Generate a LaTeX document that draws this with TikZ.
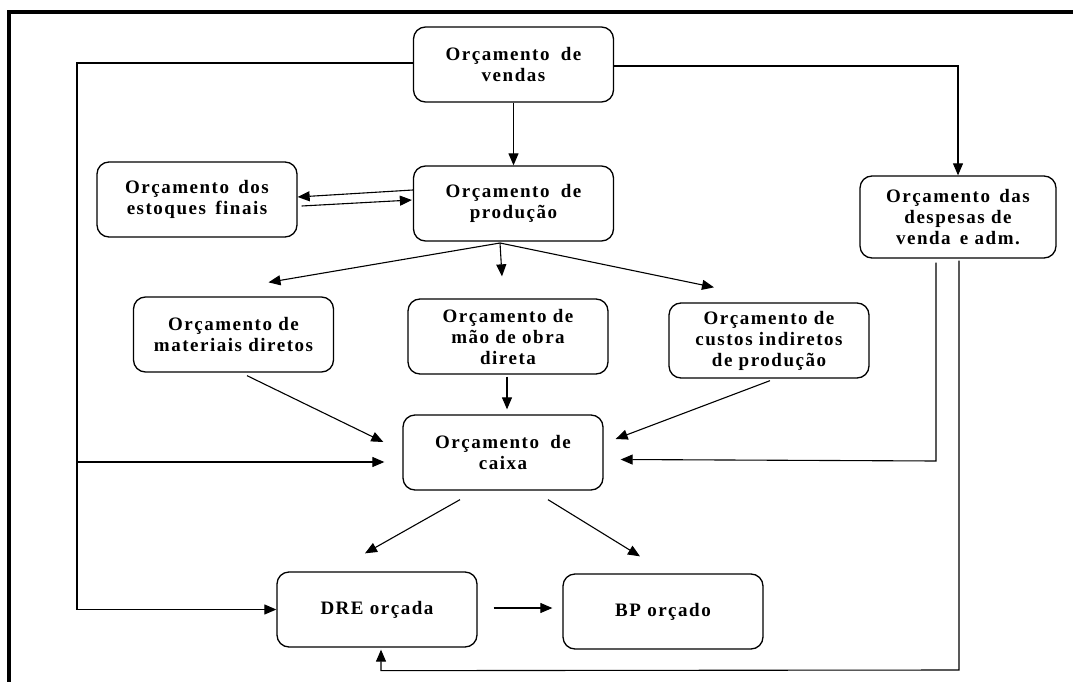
\documentclass[tikz,border=0pt]{standalone}
\usepackage{fontspec}
\setmainfont{Liberation Serif}[LetterSpace=8]
\usetikzlibrary{arrows.meta,calc}
\begin{document}
\begin{tikzpicture}[x=1pt,y=-1pt,
  box/.style={draw, line width=1.3pt, rounded corners=12pt, minimum width=200pt,
    minimum height=75pt, align=center, inner sep=0pt,
    font=\bfseries\fontsize{19}{21}\selectfont},
  conn/.style={line width=1.1pt},
  arr/.style={conn, -{Triangle[length=12pt,width=10pt]}},
  frame/.style={line width=3.2pt}]
\useasboundingbox (0,0) rectangle (1073,682);
% frame
\coordinate (fa) at (9,682);
\coordinate (fb) at (9,12);
\coordinate (fc) at (1073,12);
\draw[frame] (fa) -- (fb) -- (fc);
% boxes
\node[box] (vendas) at (513.5,64.5) {Orçamento\hspace{5pt} de\\vendas};
\node[box] (prod) at (513.5,203.5) {Orçamento\hspace{5pt} de\\produção};
\node[box] (estq) at (197,199.5) {Orçamento\hspace{3pt} dos\\estoques\hspace{3pt} finais};
\node[box, minimum width=196pt, minimum height=82pt] (desp) at (958,217) {Orçamento\hspace{3pt} das\\despesas de\\venda\hspace{3pt} e adm.};
\node[box] (mat) at (233.5,334.5) {Orçamento de\\materiais diretos};
\node[box] (mao) at (508,336.5) {Orçamento de\\mão de obra\\direta};
\node[box] (cust) at (769,340.5) {Orçamento de\\custos indiretos\\de produção};
\node[box] (caixa) at (503,452.5) {Orçamento\hspace{5pt} de\\caixa};
\node[box] (dre) at (377,609.5) {DRE orçada};
\node[box] (bp) at (663,611.5) {BP orçado};
% routing points
\coordinate (lt) at (77,63);
\coordinate (lc) at (77,462);
\coordinate (rt) at (958,66);
\coordinate (rd) at (936,461);
\coordinate (rb) at (959,670);
\coordinate (fan) at (500,243);
% connectors
\draw[arr] (vendas.west |- lt) -- (lt) |- (dre.west);
\draw[arr] (lc) -- ($(caixa.west)+(-18,9.5)$);
\draw[arr] (vendas.east |- rt) -- (rt) -- (desp.north);
\draw[arr] (vendas.south) -- (prod.north);
\draw[arr] ($(prod.west)+(0,-13.5)$) -- ($(estq.east)+(0,-2.5)$);
\draw[arr] ($(estq.east)+(4,6.5)$) -- ($(prod.west)+(-1,-3.5)$);
\draw[arr] (fan) -- ($(mat.north)+(35,-14)$);
\draw[arr] (fan) -- ($(mao.north)+(-6,-22)$);
\draw[arr] (fan) -- ($(cust.north)+(-55,-15)$);
\draw[arr] ($(mat.south)+(13.5,3)$) -- ($(caixa.west)+(-19,-10.5)$);
\draw[arr] ($(mao.south)+(-1,2)$) -- ($(caixa.north)+(4,-5)$);
\draw[arr] ($(cust.south)+(1,2)$) -- ($(caixa.east)+(12,-13.5)$);
\draw[arr] ($(desp.south)+(-22,4)$) -- (rd) -- ($(caixa.east)+(17,7)$);
\draw[arr] ($(desp.south)+(1,2)$) -- (rb) -- ($(dre.south)+(4,23)$) -- ($(dre.south)+(4,2)$);
\draw[arr] ($(caixa.south)+(-43,9)$) -- ($(dre.north)+(-12,-18)$);
\draw[arr] ($(caixa.south)+(45,9)$) -- ($(bp.north)+(-23,-17)$);
\draw[arr] ($(dre.east)+(16,-1.5)$) -- ($(bp.west)+(-10,-3.5)$);
\end{tikzpicture}
\end{document}
